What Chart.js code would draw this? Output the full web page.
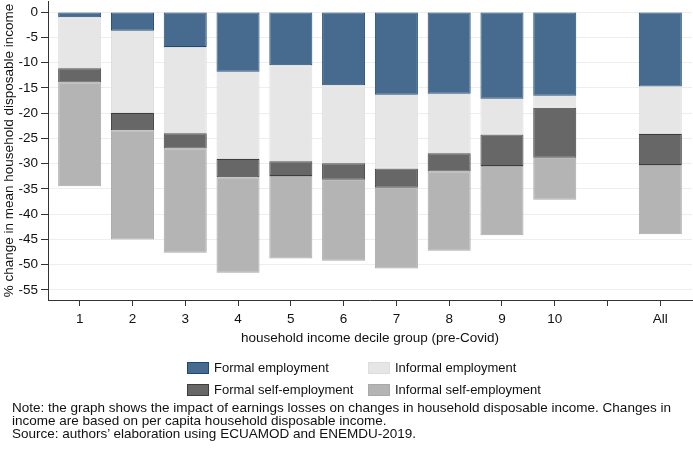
<!DOCTYPE html>
<html>
<head>
<meta charset="utf-8">
<script src="https://cdn.jsdelivr.net/npm/chart.js@4.4.1/dist/chart.umd.min.js"></script>
<style>
  body { margin: 0; background: #fff; }
  #wrap { position: relative; width: 693px; height: 449px; background: #fff;
          font-family: "Liberation Sans", Arial, Helvetica, sans-serif; color: #111; overflow: hidden; }
  #c { position: absolute; left: 0; top: 0; }
  .legItem { position: absolute; font-size: 13px; line-height: 14px; white-space: nowrap; }
  .legBox { position: absolute; width: 22px; height: 12px; box-sizing: border-box; border: 1px solid; }
  #note { position: absolute; left: 12px; top: 401px; font-size: 13.5px; line-height: 13px; white-space: nowrap; }
</style>
</head>
<body>
<div id="wrap">
  <canvas id="c" width="693" height="449"></canvas>
  <div id="legend"></div>
  <div id="note">Note: the graph shows the impact of earnings losses on changes in household disposable income. Changes in<br>income are based on per capita household disposable income.<br>Source: authors’ elaboration using ECUAMOD and ENEMDU-2019.</div>
</div>
<script>
// ---- data ----
const categories = ['1', '2', '3', '4', '5', '6', '7', '8', '9', '10', '', 'All'];
const seriesNames = ['Formal employment', 'Informal employment', 'Formal self-employment', 'Informal self-employment'];
const formalEmployment     = [-1.05, -3.7, -6.9, -11.8, -10.55, -14.5, -16.35, -16.15, -17.15, -16.55, null, -14.75];
const informalEmployment   = [-10.1, -16.3, -17.1, -17.3, -19.0, -15.4, -14.6, -11.8, -7.1, -2.4, null, -9.4];
const formalSelfEmployment = [-2.8, -3.4, -3.0, -3.6, -2.9, -3.3, -3.8, -3.6, -6.2, -9.9, null, -6.1];
const informalSelfEmployment = [-20.5, -21.6, -20.65, -18.9, -16.3, -16.0, -16.0, -15.7, -13.7, -8.3, null, -13.7];
const yTickValues = [0, -5, -10, -15, -20, -25, -30, -35, -40, -45, -50, -55];

// ---- styles ----
const fills   = ['#476b8e', '#e6e6e6', '#676767', '#b4b4b4'];
const borders = ['#1d4a72', '#dddddd', '#3d3d3d', '#a9a9a9'];
const seriesValues = [formalEmployment, informalEmployment, formalSelfEmployment, informalSelfEmployment];
const FONT = '"Liberation Sans", Arial, Helvetica, sans-serif';

Chart.defaults.font.family = FONT;
Chart.defaults.font.size = 13;
Chart.defaults.color = '#111';

const datasets = seriesNames.map((name, k) => ({
  label: name,
  data: seriesValues[k].map((v, i) => ({ x: i + 1, y: v })).filter(p => p.y !== null),
  backgroundColor: fills[k],
  borderColor: borders[k],
  borderWidth: 1,
  borderSkipped: false,
  categoryPercentage: 1,
  barPercentage: 0.815
}));

new Chart(document.getElementById('c'), {
  type: 'bar',
  data: { datasets },
  options: {
    responsive: false,
    animation: false,
    devicePixelRatio: 1,
    layout: { padding: { top: 1, right: 1, bottom: 99, left: 0 } },
    plugins: { legend: { display: false }, tooltip: { enabled: false } },
    scales: {
      x: {
        type: 'linear',
        stacked: true,
        offset: false,
        min: 0.4,
        max: 12.6,
        afterBuildTicks: s => { s.ticks = categories.map((c, i) => ({ value: i + 1 })); },
        ticks: {
          autoSkip: false, maxRotation: 0, minRotation: 0, padding: 5,
          font: { size: 13.5 }, color: '#111',
          callback: v => (categories[v - 1] !== undefined ? categories[v - 1] : '')
        },
        grid: { offset: false, drawOnChartArea: false, tickLength: 6, tickColor: '#333', tickWidth: 1 },
        border: { color: '#333', width: 1 },
        title: { display: true, text: 'household income decile group (pre-Covid)', font: { size: 13.5 }, color: '#111', padding: { top: 0, bottom: 4 } },
        afterFit: s => { s.height = 50; s.paddingLeft = 0; s.paddingRight = 0; }
      },
      y: {
        type: 'linear',
        stacked: true,
        min: -56.98,
        max: 2.18,
        afterBuildTicks: s => { s.ticks = yTickValues.slice().sort((a, b) => a - b).map(v => ({ value: v })); },
        ticks: { padding: 3, font: { size: 13.5 }, color: '#111' },
        grid: { color: '#eeeeee', tickLength: 7, tickColor: '#333', drawTicks: true },
        border: { color: '#333', width: 1 },
        title: { display: true, text: '% change in mean household disposable income', font: { size: 13.5 }, color: '#111', padding: { top: 1, bottom: 0 } },
        afterFit: s => { s.width = 48; s.paddingTop = 0; s.paddingBottom = 0; }
      }
    }
  }
});

// ---- legend (built from series names and colours) ----
const legend = document.getElementById('legend');
const colLeft = [187, 368];
const rowTop = [362, 384];
seriesNames.forEach((name, k) => {
  const col = k % 2, row = Math.floor(k / 2);
  const box = document.createElement('div');
  box.className = 'legBox';
  box.style.left = colLeft[col] + 'px';
  box.style.top = rowTop[row] + 'px';
  box.style.background = fills[k];
  box.style.borderColor = borders[k];
  legend.appendChild(box);
  const txt = document.createElement('div');
  txt.className = 'legItem';
  txt.textContent = name;
  txt.style.left = (colLeft[col] + 27) + 'px';
  txt.style.top = (rowTop[row] - 1) + 'px';
  legend.appendChild(txt);
});
</script>
</body>
</html>
